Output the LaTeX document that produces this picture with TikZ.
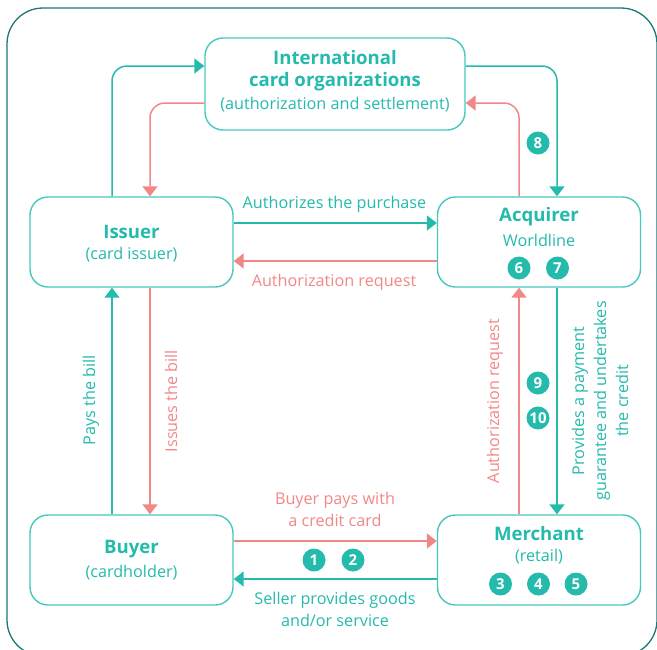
\documentclass[tikz,border=0pt]{standalone}
\usepackage{fontspec}
\setmainfont{Open Sans}
\usetikzlibrary{arrows.meta}
\definecolor{teal1}{RGB}{36,186,172}
\definecolor{tealb}{RGB}{70,200,190}
\definecolor{pink1}{RGB}{242,135,135}
\definecolor{frame1}{RGB}{30,118,118}
\tikzset{
  box/.style={draw=tealb, line width=1.4pt, rounded corners=18pt, minimum width=203pt, minimum height=90pt, inner sep=0pt},
  ttl/.style={text=teal1, font=\fontsize{18.6}{20}\selectfont\bfseries, inner sep=0pt, anchor=center},
  sub/.style={text=teal1, font=\fontsize{16.2}{17}\selectfont, inner sep=0pt, anchor=center},
  tlbl/.style={text=teal1, font=\fontsize{16.2}{22}\selectfont, inner sep=0pt, align=center, anchor=center},
  plbl/.style={text=pink1, font=\fontsize{16.2}{22}\selectfont, inner sep=0pt, align=center, anchor=center},
  badge/.style={circle, fill=teal1, text=white, minimum size=23pt, inner sep=0pt, font=\fontsize{15}{15}\selectfont\bfseries},
  tarr/.style={draw=teal1, line width=1.5pt, -{Triangle[length=10pt,width=15pt]}},
  parr/.style={draw=pink1, line width=1.5pt, -{Triangle[length=10pt,width=15pt]}},
}
\begin{document}
\begin{tikzpicture}[x=1pt,y=-1pt]
\useasboundingbox (0,0) rectangle (657,649);
\draw[frame1, line width=1.3pt, rounded corners=36pt] (7,8) rectangle (657,656);

% boxes
\node[box, minimum width=260pt, minimum height=92pt] (top) at (335,84) {};
\node[box] (iss) at (131.5,242) {};
\node[box] (acq) at (539,242) {};
\node[box] (buy) at (131.5,560) {};
\node[box] (mer) at (539,560) {};

% box texts
\node[ttl] (topt1) at (335,58) {International};
\node[ttl] (topt2) at (335,82) {card organizations};
\node[sub] (topt3) at (335,105) {(authorization and settlement)};
\node[ttl] (isst1) at (131.5,232) {Issuer};
\node[sub] (isst2) at (131.5,255) {(card issuer)};
\node[ttl] (acqt1) at (539,217) {Acquirer};
\node[sub] (acqt2) at (539,240) {Worldline};
\node[ttl] (buyt1) at (131.5,549) {Buyer};
\node[sub] (buyt2) at (131.5,573) {(cardholder)};
\node[ttl] (mert1) at (539,534) {Merchant};
\node[sub] (mert2) at (539,557) {(retail)};

% badges
\node[badge] (b1) at (314,560) {1};
\node[badge] (b2) at (353,560) {2};
\node[badge] (b3) at (500.5,584) {3};
\node[badge] (b4) at (538.5,584) {4};
\node[badge] (b5) at (576,584) {5};
\node[badge] (b6) at (519,268) {6};
\node[badge] (b7) at (557.5,268) {7};
\node[badge] (b8) at (538,143) {8};
\node[badge] (b9) at (538,383) {9};
\node[badge] (b10) at (538,418) {10};

% top connectors
\draw[tarr, rounded corners=15pt] ([xshift=-19.5pt]iss.north) |- ([yshift=18pt]top.west);
\draw[parr, rounded corners=15pt] ([yshift=-19pt]top.west) -| ([xshift=18.5pt]iss.north);
\draw[tarr, rounded corners=15pt] ([yshift=18pt]top.east) -| ([xshift=18pt]acq.north);
\draw[parr, rounded corners=15pt] ([xshift=-20pt]acq.north) |- ([yshift=-19pt]top.east);

% horizontal connectors
\draw[tarr] ([yshift=19pt]iss.east) -- ([yshift=19pt]acq.west);
\draw[parr] ([yshift=-19pt]acq.west) -- ([yshift=-19pt]iss.east);
\draw[parr] ([yshift=19pt]buy.east) -- ([yshift=19pt]mer.west);
\draw[tarr] ([yshift=-19pt]mer.west) -- ([yshift=-19pt]buy.east);

% vertical connectors
\draw[tarr] ([xshift=-19.5pt]buy.north) -- ([xshift=-19.5pt]iss.south);
\draw[parr] ([xshift=18.5pt]iss.south) -- ([xshift=18.5pt]buy.north);
\draw[parr] ([xshift=-20pt]mer.north) -- ([xshift=-20pt]acq.south);
\draw[tarr] ([xshift=18pt]acq.south) -- ([xshift=18pt]mer.north);

% labels
\node[tlbl] (l1) at (334.5,204) {Authorizes the purchase};
\node[plbl] (l2) at (334,282) {Authorization request};
\node[plbl] (l3) at (335,509.5) {Buyer pays with\\a credit card};
\node[tlbl] (l4) at (335,609.5) {Seller provides goods\\and/or service};
\node[tlbl, rotate=90] (l5) at (91,400) {Pays the bill};
\node[plbl, rotate=90] (l6) at (171,401) {Issues the bill};
\node[plbl, rotate=90] (l7) at (495,401) {Authorization request};
\node[tlbl, rotate=90] (l8) at (600,401) {Provides a payment\\guarantee and undertakes\\the credit};
\end{tikzpicture}
\end{document}
